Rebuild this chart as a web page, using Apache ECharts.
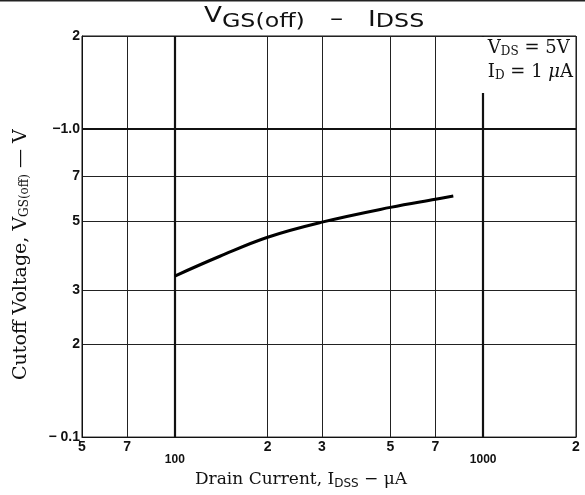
<!DOCTYPE html>
<html>
<head>
<meta charset="utf-8">
<script src="https://cdn.jsdelivr.net/npm/echarts@6/dist/echarts.min.js"></script>
<style>
  html, body { margin: 0; padding: 0; background: #fff; }
  #chart { width: 585px; height: 495px; }
</style>
</head>
<body>
<div id="chart"></div>
<script>
// drain current I_DSS (uA) vs cutoff voltage V_GS(off) (V)
const drainCurrent = [100, 140, 200, 300, 500, 700, 800];
const cutoffVoltage = [0.333, 0.386, 0.445, 0.498, 0.556, 0.591, 0.605];

// grid positions and the labels printed at them
const xTicks = [50, 70, 100, 200, 300, 500, 700, 1000, 2000];
const xTickLabels = ['5', '7', '100', '2', '3', '5', '7', '1000', '2'];
const yTicks = [0.1, 0.2, 0.3, 0.5, 0.7, 1, 2];
const yTickLabels = ['\u2212 0.1', '2', '3', '5', '7', '\u22121.0', '2'];

// decade lines are drawn heavier
const xDecades = [100, 1000];
const yDecades = [1];

const SANS = '"DejaVu Sans", "Liberation Sans", sans-serif';
const LABEL = '"Liberation Sans", Arial, sans-serif';
const SERIF = '"DejaVu Serif", "Liberation Serif", serif';

const chart = echarts.init(document.getElementById('chart'));

const xLabelFor = v => {
  const i = xTicks.findIndex(t => Math.abs(t - v) / t < 1e-6);
  if (i < 0) return '';
  const s = xTickLabels[i];
  return s.length > 1 ? '{d|' + s + '}' : '{n|' + s + '}';
};
const yLabelFor = v => {
  const i = yTicks.findIndex(t => Math.abs(t - v) / t < 1e-6);
  return i < 0 ? '' : yTickLabels[i];
};

chart.setOption({
  animation: false,
  grid: { left: 82, right: 9, top: 36, bottom: 55, show: true, borderColor: '#111', borderWidth: 1 },
  xAxis: {
    type: 'log',
    logBase: 10,
    min: 50,
    max: 2000,
    name: '{n|Drain Current, I}{s|DSS}{n| \u2212 \u03bcA}',
    nameLocation: 'middle',
    nameGap: 28,
    nameTextStyle: {
      padding: [0, 56, 0, 0],
      rich: {
        n: { fontFamily: SERIF, fontSize: 17, color: '#111' },
        s: { fontFamily: SANS, fontSize: 12, color: '#111', padding: [9, 0, 0, 0] }
      }
    },
    axisLine: { lineStyle: { color: '#111', width: 1 } },
    axisTick: { show: false, customValues: xTicks },
    axisLabel: {
      customValues: xTicks,
      margin: 3,
      formatter: xLabelFor,
      rich: {
        n: { fontFamily: LABEL, fontSize: 14, fontWeight: 'bold', color: '#111' },
        d: { fontFamily: LABEL, fontSize: 12, fontWeight: 'bold', color: '#111', padding: [14, 0, 0, 0] }
      }
    },
    splitLine: { show: true, lineStyle: { color: '#222', width: 1 } }
  },
  yAxis: {
    type: 'log',
    logBase: 10,
    min: 0.1,
    max: 2,
    name: '{n|Cutoff Voltage, V}{s|GS(off)}{n| \u2014 V}',
    nameLocation: 'middle',
    nameRotate: 90,
    nameGap: 51,
    nameTextStyle: {
      // the printed label sits a bit below the middle of the axis
      padding: [0, 36, 0, 0],
      rich: {
        n: { fontFamily: SERIF, fontSize: 19, color: '#111' },
        s: { fontFamily: SERIF, fontSize: 12, color: '#111', padding: [8, 0, 0, 0] }
      }
    },
    axisLine: { show: true, lineStyle: { color: '#111', width: 1 } },
    axisTick: { show: false, customValues: yTicks },
    axisLabel: {
      customValues: yTicks,
      margin: 2,
      formatter: yLabelFor,
      fontFamily: LABEL,
      fontSize: 14,
      fontWeight: 'bold',
      color: '#111'
    },
    splitLine: { show: true, lineStyle: { color: '#222', width: 1 } }
  },
  graphic: [
    { type: 'line', shape: { x1: 0, y1: 0.5, x2: 585, y2: 0.5 }, style: { stroke: '#222', lineWidth: 2 } },
    // chart title, the scan's lettering is wide so stretch it a little
    {
      type: 'text', x: 204, y: 6, scaleX: 1.25,
      style: {
        text: '{v|V}{s|GS(off)}{g|   \u2013   }{i|I}{s|DSS}',
        rich: {
          v: { fontFamily: SANS, fontSize: 21, fill: '#111', padding: [0, 0, 12, 0] },
          s: { fontFamily: SANS, fontSize: 19, fill: '#111' },
          g: { fontFamily: SANS, fontSize: 21, fill: '#111', padding: [0, 0, 6, 0] },
          i: { fontFamily: SANS, fontSize: 21, fill: '#111', padding: [0, 0, 3, 0] }
        }
      }
    },
    {
      type: 'rect', right: 10, top: 37, shape: { width: 112, height: 56 },
      style: { fill: '#fff' }, z: 10
    },
    {
      type: 'text', right: 12, top: 38, z: 11,
      style: {
        text: '{n|V}{s|DS}{n| = 5V}\n{n|I}{s|D}{n| = 1 }{i|\u03bc}{n|A}',
        rich: {
          n: { fontFamily: SERIF, fontSize: 18, fill: '#111', lineHeight: 24 },
          s: { fontFamily: SERIF, fontSize: 12, fill: '#111', padding: [8, 0, 0, 0], lineHeight: 24 },
          i: { fontFamily: SERIF, fontSize: 18, fontStyle: 'italic', fill: '#111', lineHeight: 24 }
        }
      }
    }
  ],
  series: [
    {
      type: 'line',
      data: drainCurrent.map((x, i) => [x, cutoffVoltage[i]]),
      smooth: 0.4,
      showSymbol: false,
      lineStyle: { color: '#000', width: 3 },
      z: 5,
      markLine: {
        silent: true,
        symbol: 'none',
        label: { show: false },
        lineStyle: { color: '#111', width: 2.2, type: 'solid' },
        data: [
          ...xDecades.map(v => ({ xAxis: v })),
          ...yDecades.map(v => ({ yAxis: v }))
        ]
      }
    }
  ]
});
</script>
</body>
</html>
